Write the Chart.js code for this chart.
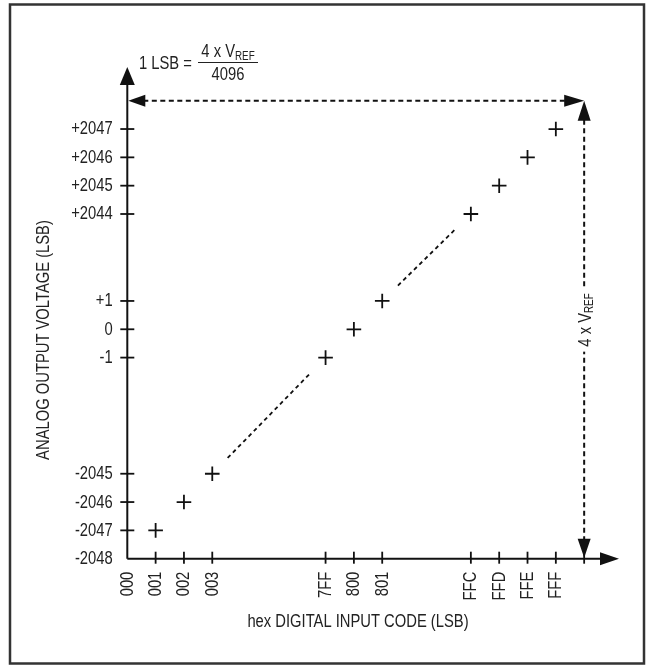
<!DOCTYPE html>
<html><head><meta charset="utf-8">
<script src="https://cdn.jsdelivr.net/npm/chart.js@4/dist/chart.umd.min.js"></script>
<style>html,body{margin:0;padding:0;background:#fff;}#wrap{position:relative;width:647px;height:666px;}canvas{display:block}</style>
</head><body><div id="wrap"><canvas id="c" width="647" height="666"></canvas></div>
<script>
// ---- data ----
const inputCodeLabels = ['000','001','002','003','7FF','800','801','FFC','FFD','FFE','FFF'];
const inputCodes      = [0, 1, 2, 3, 2047, 2048, 2049, 4092, 4093, 4094, 4095];
const outputLabels    = ['-2048','-2047','-2046','-2045','-1','0','+1','+2044','+2045','+2046','+2047'];
const outputValues    = [-2048, -2047, -2046, -2045, -1, 0, 1, 2044, 2045, 2046, 2047];
const pointCodes      = [1, 2, 3, 2047, 2048, 2049, 4092, 4093, 4094, 4095];
const pointOutputs    = [-2047, -2046, -2045, -1, 0, 1, 2044, 2045, 2046, 2047];
const gapPairs        = [[3, -2045, 2047, -1], [2049, 1, 4092, 2044]];
const fullScaleCode   = 4096;
const fullScaleOutput = 2048;
const xTitle = 'hex DIGITAL INPUT CODE (LSB)';
const yTitle = 'ANALOG OUTPUT VOLTAGE (LSB)';

// ---- broken-axis transforms (code / LSB -> scale slot) ----
function codeSlot(c){ if (c <= 3) return c; if (c <= 2049) return c - 2047 + 7; return c - 4092 + 12.13; }
function lsbSlot(v){ if (v <= -2045) return v + 2048; if (v <= 1) return v + 8.1; return v - 2044 + 12.17; }

const FAM = '"Liberation Sans", Arial, sans-serif';
const NARROW = 0.82;           // condensed look (Arial Narrow = Arial at 82% width)
const TXT = '#222';
const INK = '#111';
const SLOT_MAX = 17.36;

function txt(ctx, s, x, y, size, align, baseline, rot){
  ctx.save();
  ctx.translate(x, y);
  if (rot) ctx.rotate(rot);
  ctx.scale(NARROW, 1);
  ctx.font = size + 'px ' + FAM;
  ctx.textAlign = align; ctx.textBaseline = baseline;
  ctx.fillStyle = TXT;
  ctx.fillText(s, 0, 0);
  ctx.restore();
}
function tw(ctx, s, size){ ctx.save(); ctx.font = size + 'px ' + FAM; const w = ctx.measureText(s).width * NARROW; ctx.restore(); return w; }

function arrow(ctx, tx, ty, dx, dy, len, hw){
  const bx = tx - dx*len, by = ty - dy*len;
  const px = -dy, py = dx;
  ctx.beginPath();
  ctx.moveTo(tx, ty);
  ctx.lineTo(bx + px*hw, by + py*hw);
  ctx.lineTo(bx - px*hw, by - py*hw);
  ctx.closePath();
  ctx.fill();
}

const deco = {
  id: 'deco',
  beforeDatasetsDraw(chart){
    const ctx = chart.ctx, xs = chart.scales.x, ys = chart.scales.y;
    const x0 = xs.getPixelForValue(0), y0 = ys.getPixelForValue(0);
    const xTip = xs.getPixelForValue(SLOT_MAX), yTip = ys.getPixelForValue(SLOT_MAX);
    ctx.save();
    // frame
    ctx.strokeStyle = '#333'; ctx.lineWidth = 2.5;
    ctx.strokeRect(10, 4.5, 634, 659);
    // axes
    ctx.strokeStyle = INK; ctx.fillStyle = INK; ctx.lineWidth = 2;
    ctx.beginPath(); ctx.moveTo(x0, y0); ctx.lineTo(xTip - 15, y0); ctx.stroke();
    arrow(ctx, xTip, y0, 1, 0, 19, 6.5);
    ctx.beginPath(); ctx.moveTo(x0, y0); ctx.lineTo(x0, yTip + 15); ctx.stroke();
    arrow(ctx, x0, yTip, 0, -1, 18, 7.5);
    // tick marks + tick labels
    ctx.lineWidth = 1.8;
    inputCodes.concat([fullScaleCode]).forEach(c => {
      if (c === 0) return;
      const px = xs.getPixelForValue(codeSlot(c));
      ctx.beginPath(); ctx.moveTo(px, y0 - 7); ctx.lineTo(px, y0 + 5); ctx.stroke();
    });
    outputValues.forEach(v => {
      if (v === -2048) return;
      const py = ys.getPixelForValue(lsbSlot(v));
      ctx.beginPath(); ctx.moveTo(x0 - 7, py); ctx.lineTo(x0 + 7, py); ctx.stroke();
    });
    inputCodes.forEach((c, i) => {
      const px = xs.getPixelForValue(codeSlot(c));
      txt(ctx, inputCodeLabels[i], px + 0.5, y0 + 13, 18, 'right', 'middle', -Math.PI/2);
    });
    outputValues.forEach((v, i) => {
      const py = ys.getPixelForValue(lsbSlot(v));
      txt(ctx, outputLabels[i], x0 - 14.6, py + 0.5, 18, 'right', 'middle', 0);
    });
    // ellipsis diagonals
    ctx.strokeStyle = INK;
    ctx.setLineDash([4, 3.5]); ctx.lineWidth = 1.8;
    gapPairs.forEach(([c1, v1, c2, v2]) => {
      const ax = xs.getPixelForValue(codeSlot(c1)), ay = ys.getPixelForValue(lsbSlot(v1));
      const bx = xs.getPixelForValue(codeSlot(c2)), by = ys.getPixelForValue(lsbSlot(v2));
      const d = Math.hypot(bx - ax, by - ay), ux = (bx - ax)/d, uy = (by - ay)/d, t = 22;
      ctx.beginPath(); ctx.moveTo(ax + ux*t, ay + uy*t); ctx.lineTo(bx - ux*t, by - uy*t); ctx.stroke();
    });
    // full-scale dashed arrows
    const fx = xs.getPixelForValue(codeSlot(fullScaleCode));
    const fy = ys.getPixelForValue(lsbSlot(fullScaleOutput));
    ctx.setLineDash([5, 3.5]); ctx.lineWidth = 2;
    ctx.beginPath(); ctx.moveTo(x0 + 16, fy); ctx.lineTo(fx - 19, fy); ctx.stroke();
    ctx.beginPath(); ctx.moveTo(fx, fy + 19); ctx.lineTo(fx, y0 - 18); ctx.stroke();
    ctx.setLineDash([]);
    ctx.fillStyle = INK;
    arrow(ctx, x0 + 1, fy, -1, 0, 17, 6);
    arrow(ctx, fx, fy, 1, 0, 20, 6);
    arrow(ctx, fx, fy, 0, -1, 20, 6.5);
    arrow(ctx, fx, y0 - 1, 0, 1, 19, 6.5);

    // rotated "4 x VREF" label on the vertical dashed line
    const wMain = tw(ctx, '4 x V', 18), wSub = tw(ctx, 'REF', 12), wTot = wMain + wSub;
    const cy = 320;
    ctx.fillStyle = '#fff';
    ctx.fillRect(fx - 10, cy - wTot/2 - 5, 20, wTot + 10);
    ctx.save(); ctx.translate(fx, cy); ctx.rotate(-Math.PI/2);
    txt(ctx, '4 x V', -wTot/2, 6.5, 18, 'left', 'alphabetic', 0);
    txt(ctx, 'REF', -wTot/2 + wMain, 9, 12, 'left', 'alphabetic', 0);
    ctx.restore();
    ctx.restore();
  },
  afterDraw(chart){
    const ctx = chart.ctx;
    ctx.save();
    // axis titles
    txt(ctx, xTitle, 358, 622, 18, 'center', 'middle', 0);
    txt(ctx, yTitle, 44, 340, 18, 'center', 'middle', -Math.PI/2);
    // 1 LSB = 4 x VREF / 4096
    txt(ctx, '1 LSB =', 139, 64, 18, 'left', 'middle', 0);
    const wMain = tw(ctx, '4 x V', 18), wSub = tw(ctx, 'REF', 12);
    const cx = 228, nx = cx - (wMain + wSub)/2;
    txt(ctx, '4 x V', nx, 57, 18, 'left', 'alphabetic', 0);
    txt(ctx, 'REF', nx + wMain, 59.5, 12, 'left', 'alphabetic', 0);
    ctx.strokeStyle = TXT; ctx.lineWidth = 1.2;
    ctx.beginPath(); ctx.moveTo(198, 62.5); ctx.lineTo(258, 62.5); ctx.stroke();
    txt(ctx, '4096', cx, 80, 18, 'center', 'alphabetic', 0);
    ctx.restore();
  }
};

new Chart(document.getElementById('c'), {
  type: 'scatter',
  data: {
    datasets: [{
      data: pointCodes.map((c, i) => ({ x: codeSlot(c), y: lsbSlot(pointOutputs[i]) })),
      pointStyle: 'cross', pointRadius: 7.3, pointHoverRadius: 7.3,
      borderColor: INK, backgroundColor: INK, pointBorderWidth: 1.8, borderWidth: 1.8,
      showLine: false, clip: false
    }]
  },
  options: {
    responsive: false, animation: false, devicePixelRatio: 1,
    layout: { padding: { left: 0, top: 67, right: 28, bottom: 0 } },
    plugins: { legend: { display: false }, tooltip: { enabled: false } },
    events: [],
    scales: {
      x: {
        type: 'linear', min: 0, max: SLOT_MAX,
        afterBuildTicks: s => { s.ticks = inputCodes.map(c => ({ value: codeSlot(c) })); },
        afterFit: s => { s.height = 107.3; },
        grid: { display: false }, border: { display: false },
        ticks: { display: false }
      },
      y: {
        type: 'linear', min: 0, max: SLOT_MAX,
        afterBuildTicks: s => { s.ticks = outputValues.map(v => ({ value: lsbSlot(v) })); },
        afterFit: s => { s.width = 127.3; },
        grid: { display: false }, border: { display: false },
        ticks: { display: false }
      }
    }
  },
  plugins: [deco]
});
</script></body></html>
